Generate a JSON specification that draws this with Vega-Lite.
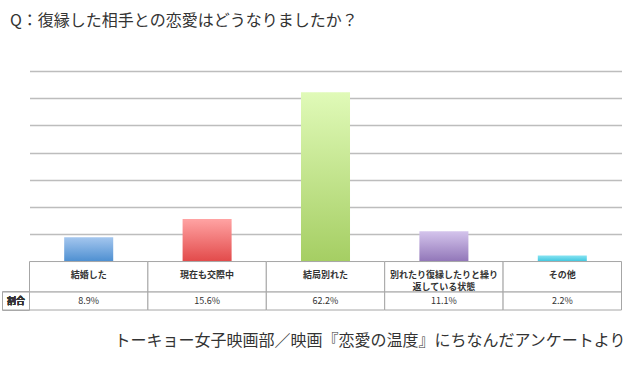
{
  "$schema": "https://vega.github.io/schema/vega-lite/v6.json",
  "width": 592,
  "height": 239,
  "autosize": "none",
  "padding": {"left": 29.5, "top": 71, "right": 18.5, "bottom": 67},
  "background": "white",
  "config": {"view": {"stroke": null}, "font": "Noto Sans CJK JP"},
  "title": {
    "text": "Q：復縁した相手との恋愛はどうなりましたか？",
    "anchor": "start",
    "frame": "group",
    "dx": -19.5,
    "offset": 42,
    "fontSize": 16,
    "fontWeight": "normal",
    "color": "#333333",
    "font": "Noto Sans CJK JP"
  },
  "data": {
    "values": [
      {"name": "結婚した", "label": "結婚した", "value": 8.9, "pct": "8.9%"},
      {"name": "現在も交際中", "label": "現在も交際中", "value": 15.6, "pct": "15.6%"},
      {"name": "結局別れた", "label": "結局別れた", "value": 62.2, "pct": "62.2%"},
      {"name": "別れたり復縁したりと繰り返している状態", "label": "別れたり復縁したりと繰り\n返している状態", "value": 11.1, "pct": "11.1%"},
      {"name": "その他", "label": "その他", "value": 2.2, "pct": "2.2%"}
    ]
  },
  "encoding": {
    "x": {
      "field": "name",
      "type": "nominal",
      "sort": null,
      "scale": {"paddingInner": 0, "paddingOuter": 0},
      "axis": {
        "orient": "bottom",
        "labels": false,
        "ticks": false,
        "domain": false,
        "grid": false,
        "title": "トーキョー女子映画部／映画『恋愛の温度』にちなんだアンケートより",
        "titleFont": "Noto Sans CJK JP",
        "titleFontSize": 16,
        "titleFontWeight": "normal",
        "titleColor": "#333333",
        "titleAlign": "right",
        "titleX": 595.5,
        "titlePadding": 22
      }
    }
  },
  "layer": [
    {
      "mark": {"type": "bar", "width": {"band": 0.414}},
      "encoding": {
        "y": {
          "field": "value",
          "type": "quantitative",
          "scale": {"domain": [-17.8, 70], "nice": false, "zero": false},
          "axis": {"values": [0, 10, 20, 30, 40, 50, 60, 70], "grid": true, "labels": false, "ticks": false, "domain": false, "title": null, "gridColor": "#bdbdbd", "gridWidth": 1.6}
        },
        "y2": {"datum": 0},
        "color": {
          "condition": [
            {"test": "datum.name === '結婚した'", "value": {"gradient": "linear", "x1": 0, "y1": 0, "x2": 0, "y2": 1, "stops": [{"offset": 0, "color": "#a4c6ee"}, {"offset": 1, "color": "#4d8fd1"}]}},
            {"test": "datum.name === '現在も交際中'", "value": {"gradient": "linear", "x1": 0, "y1": 0, "x2": 0, "y2": 1, "stops": [{"offset": 0, "color": "#ffa3a3"}, {"offset": 1, "color": "#e24a4a"}]}},
            {"test": "datum.name === '結局別れた'", "value": {"gradient": "linear", "x1": 0, "y1": 0, "x2": 0, "y2": 1, "stops": [{"offset": 0, "color": "#e0fab8"}, {"offset": 1, "color": "#a5ce63"}]}},
            {"test": "datum.name === '別れたり復縁したりと繰り返している状態'", "value": {"gradient": "linear", "x1": 0, "y1": 0, "x2": 0, "y2": 1, "stops": [{"offset": 0, "color": "#d4c4ec"}, {"offset": 1, "color": "#9176b8"}]}}
          ],
          "value": {"gradient": "linear", "x1": 0, "y1": 0, "x2": 0, "y2": 1, "stops": [{"offset": 0, "color": "#86e3f2"}, {"offset": 1, "color": "#3ec6de"}]}
        }
      }
    },
    {
      "mark": {"type": "rect", "fill": "white", "stroke": "#a6a6a6", "strokeWidth": 1},
      "encoding": {
        "y": {"datum": 0, "axis": {"values": [0, 10, 20, 30, 40, 50, 60, 70], "grid": true, "labels": false, "ticks": false, "domain": false, "title": null, "gridColor": "#bdbdbd", "gridWidth": 1.6}},
        "y2": {"datum": -11.2}
      }
    },
    {
      "mark": {"type": "rect", "fill": "white", "stroke": "#a6a6a6", "strokeWidth": 1},
      "encoding": {
        "y": {"datum": -11.2, "axis": {"values": [0, 10, 20, 30, 40, 50, 60, 70], "grid": true, "labels": false, "ticks": false, "domain": false, "title": null, "gridColor": "#bdbdbd", "gridWidth": 1.6}},
        "y2": {"datum": -17.8}
      }
    },
    {
      "mark": {"type": "rect", "fill": "white", "stroke": "#a6a6a6", "strokeWidth": 1, "xOffset": -27},
      "encoding": {
        "x": {"datum": "結婚した", "type": "nominal", "bandPosition": 0},
        "x2": {"datum": "結婚した", "bandPosition": 0},
        "y": {"datum": -11.2, "axis": {"values": [0, 10, 20, 30, 40, 50, 60, 70], "grid": true, "labels": false, "ticks": false, "domain": false, "title": null, "gridColor": "#bdbdbd", "gridWidth": 1.6}},
        "y2": {"datum": -17.8}
      }
    },
    {
      "mark": {"type": "text", "fontSize": 9, "fontWeight": "bold", "color": "#333333", "xOffset": -13.5, "baseline": "middle"},
      "encoding": {
        "x": {"datum": "結婚した", "type": "nominal", "bandPosition": 0},
        "y": {"datum": -14.5, "axis": {"values": [0, 10, 20, 30, 40, 50, 60, 70], "grid": true, "labels": false, "ticks": false, "domain": false, "title": null, "gridColor": "#bdbdbd", "gridWidth": 1.6}},
        "text": {"value": "割合"}
      }
    },
    {
      "mark": {"type": "text", "fontSize": 9, "fontWeight": "bold", "color": "#333333", "lineBreak": "\n", "lineHeight": 12, "baseline": "middle"},
      "encoding": {
        "y": {"datum": -5.0, "axis": {"values": [0, 10, 20, 30, 40, 50, 60, 70], "grid": true, "labels": false, "ticks": false, "domain": false, "title": null, "gridColor": "#bdbdbd", "gridWidth": 1.6}},
        "text": {"field": "label"}
      }
    },
    {
      "mark": {"type": "text", "fontSize": 9, "color": "#333333", "baseline": "middle"},
      "encoding": {
        "y": {"datum": -14.5, "axis": {"values": [0, 10, 20, 30, 40, 50, 60, 70], "grid": true, "labels": false, "ticks": false, "domain": false, "title": null, "gridColor": "#bdbdbd", "gridWidth": 1.6}},
        "text": {"field": "pct"}
      }
    }
  ]
}
